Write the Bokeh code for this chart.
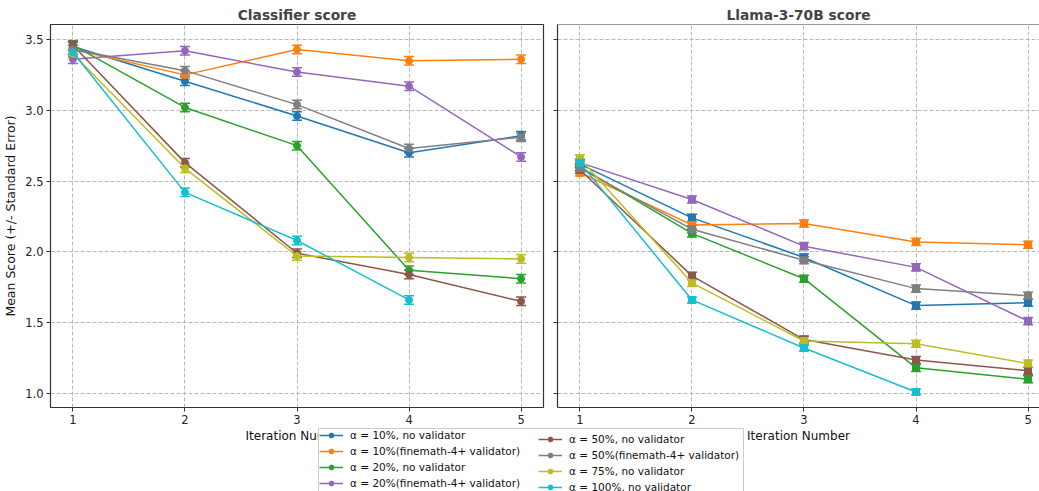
import math
from bokeh.plotting import figure
from bokeh.models import (ColumnDataSource, Whisker, TeeHead, FixedTicker, Legend,
                          LegendItem, Range1d, Span, PrintfTickFormatter)
from bokeh.layouts import row, column
from bokeh.embed import file_html
from bokeh.resources import INLINE

# ---------------- data ----------------
iterations = [1, 2, 3, 4, 5]
series_labels = [
    "α = 10%, no validator",
    "α = 10%(finemath-4+ validator)",
    "α = 20%, no validator",
    "α = 20%(finemath-4+ validator)",
    "α = 50%, no validator",
    "α = 50%(finemath-4+ validator)",
    "α = 75%, no validator",
    "α = 100%, no validator",
]
colors = ["#1f77b4", "#ff7f0e", "#2ca02c", "#9467bd",
          "#8c564b", "#7f7f7f", "#bcbd22", "#17becf"]

# Classifier score (mean)
clf_a10_nv = [3.45, 3.205, 2.96, 2.70, 2.82]
clf_a10_fm = [3.43, 3.25, 3.43, 3.35, 3.36]
clf_a20_nv = [3.46, 3.02, 2.75, 1.87, 1.81]
clf_a20_fm = [3.36, 3.42, 3.27, 3.17, 2.67]
clf_a50_nv = [3.46, 2.63, 1.99, 1.84, 1.65]
clf_a50_fm = [3.43, 3.28, 3.04, 2.73, 2.81]
clf_a75_nv = [3.40, 2.59, 1.97, 1.96, 1.95]
clf_a100_nv = [3.41, 2.42, 2.08, 1.66]

# Classifier score (standard error)
clf_se_a10_nv = [0.03, 0.03, 0.03, 0.03, 0.03]
clf_se_a10_fm = [0.03, 0.03, 0.03, 0.03, 0.03]
clf_se_a20_nv = [0.03, 0.03, 0.03, 0.03, 0.03]
clf_se_a20_fm = [0.03, 0.03, 0.03, 0.03, 0.03]
clf_se_a50_nv = [0.03, 0.03, 0.03, 0.03, 0.03]
clf_se_a50_fm = [0.03, 0.03, 0.03, 0.03, 0.03]
clf_se_a75_nv = [0.03, 0.03, 0.03, 0.03, 0.03]
clf_se_a100_nv = [0.03, 0.03, 0.03, 0.03]

# Llama-3-70B score (mean)
llm_a10_nv = [2.62, 2.24, 1.96, 1.62, 1.64]
llm_a10_fm = [2.56, 2.19, 2.20, 2.07, 2.05]
llm_a20_nv = [2.60, 2.13, 1.81, 1.18, 1.10]
llm_a20_fm = [2.63, 2.37, 2.04, 1.89, 1.51]
llm_a50_nv = [2.58, 1.83, 1.38, 1.235, 1.16]
llm_a50_fm = [2.59, 2.16, 1.94, 1.74, 1.69]
llm_a75_nv = [2.66, 1.78, 1.37, 1.35, 1.21]
llm_a100_nv = [2.63, 1.66, 1.32, 1.01]

# Llama-3-70B score (standard error)
llm_se_a10_nv = [0.025, 0.025, 0.025, 0.025, 0.025]
llm_se_a10_fm = [0.025, 0.025, 0.025, 0.025, 0.025]
llm_se_a20_nv = [0.025, 0.025, 0.025, 0.025, 0.025]
llm_se_a20_fm = [0.025, 0.025, 0.025, 0.025, 0.025]
llm_se_a50_nv = [0.025, 0.025, 0.025, 0.025, 0.025]
llm_se_a50_fm = [0.025, 0.025, 0.025, 0.025, 0.025]
llm_se_a75_nv = [0.025, 0.025, 0.025, 0.025, 0.025]
llm_se_a100_nv = [0.02, 0.02, 0.02, 0.02]

y_ticks = [1.0, 1.5, 2.0, 2.5, 3.0, 3.5]

clf_means = [clf_a10_nv, clf_a10_fm, clf_a20_nv, clf_a20_fm,
             clf_a50_nv, clf_a50_fm, clf_a75_nv, clf_a100_nv]
clf_ses = [clf_se_a10_nv, clf_se_a10_fm, clf_se_a20_nv, clf_se_a20_fm,
           clf_se_a50_nv, clf_se_a50_fm, clf_se_a75_nv, clf_se_a100_nv]
llm_means = [llm_a10_nv, llm_a10_fm, llm_a20_nv, llm_a20_fm,
             llm_a50_nv, llm_a50_fm, llm_a75_nv, llm_a100_nv]
llm_ses = [llm_se_a10_nv, llm_se_a10_fm, llm_se_a20_nv, llm_se_a20_fm,
           llm_se_a50_nv, llm_se_a50_fm, llm_se_a75_nv, llm_se_a100_nv]

FONT = "DejaVu Sans"
Y_START, Y_END = 0.90, 3.606
y_range = Range1d(Y_START, Y_END)
SPINE = "#333333"


def style(p, show_ylabels):
    p.title.text_font = FONT
    p.title.text_font_size = "13.8px"
    p.title.text_font_style = "bold"
    p.title.align = "center"
    p.title.standoff = 3
    p.xgrid.ticker = FixedTicker(ticks=iterations)
    p.ygrid.ticker = FixedTicker(ticks=y_ticks)
    for g in (p.xgrid, p.ygrid):
        g.grid_line_color = "#b8b8b8"
        g.grid_line_dash = "4 2"
        g.grid_line_width = 1
    p.xaxis.ticker = FixedTicker(ticks=iterations)
    p.yaxis.ticker = FixedTicker(ticks=y_ticks)
    p.yaxis.formatter = PrintfTickFormatter(format="%.1f")
    for ax in (p.xaxis, p.yaxis):
        ax.major_tick_line_color = SPINE
        ax.major_tick_out = 4
        ax.major_tick_in = 0
        ax.minor_tick_line_color = None
        ax.major_label_text_font = FONT
        ax.major_label_text_font_size = "11.5px"
        ax.major_label_text_color = "#222222"
        ax.axis_label_text_font = FONT
        ax.axis_label_text_font_size = "12.5px"
        ax.axis_label_text_font_style = "normal"
        ax.axis_label_text_color = "#111111"
        ax.major_label_standoff = 3
        ax.axis_label_standoff = 2
    p.yaxis.axis_label_standoff = 4
    p.xaxis.axis_label = "Iteration Number"
    p.xaxis.axis_label_text_font_size = "12px"
    if show_ylabels:
        p.yaxis.axis_label = "Mean Score (+/- Standard Error)"
    else:
        p.yaxis.major_label_overrides = {t: "" for t in y_ticks}
        p.yaxis.major_label_standoff = 0
    p.background_fill_color = "white"
    p.border_fill_color = "white"


def draw_series(p, means, ses, marker):
    for vals, errs, c in zip(means, ses, colors):
        xs = iterations[:len(vals)]
        src = ColumnDataSource(dict(
            x=xs, y=vals,
            upper=[v + e for v, e in zip(vals, errs)],
            lower=[v - e for v, e in zip(vals, errs)]))
        p.line("x", "y", source=src, line_color=c, line_width=1.5)
        w = Whisker(base="x", upper="upper", lower="lower", source=src,
                    line_color=c, line_width=1.5,
                    upper_head=TeeHead(size=10, line_color=c, line_width=1.5),
                    lower_head=TeeHead(size=10, line_color=c, line_width=1.5))
        p.add_layout(w)
        p.scatter("x", "y", source=src, marker=marker, size=7,
                  fill_color=c, line_color=c)


# -------- left panel --------
p1 = figure(title="Classifier score", frame_width=493, frame_height=383,
            x_range=Range1d(0.8, 5.2), y_range=y_range,
            toolbar_location=None, output_backend="svg",
            min_border_left=43, min_border_right=7, min_border_top=24,
            min_border_bottom=40)
style(p1, True)
p1.axis.axis_line_color = None
p1.outline_line_color = SPINE
p1.outline_line_width = 1.2
draw_series(p1, clf_means, clf_ses, "circle")

# -------- right panel --------
p2 = figure(title="Llama-3-70B score", frame_width=482, frame_height=383,
            x_range=Range1d(0.8, 5.102), y_range=y_range,
            toolbar_location=None, output_backend="svg",
            min_border_left=7, min_border_right=0, min_border_top=24,
            min_border_bottom=40)
style(p2, False)
p2.outline_line_color = None
p2.axis.axis_line_color = SPINE
p2.axis.axis_line_width = 1.2
p2.add_layout(Span(location=Y_END, dimension="width", line_color=SPINE,
                   line_width=1.2))
draw_series(p2, llm_means, llm_ses, "square")

# -------- legend box --------
lf = figure(width=426, height=66, x_range=Range1d(0, 1), y_range=Range1d(0, 1),
            toolbar_location=None, output_backend="svg",
            x_axis_location=None, y_axis_location=None, min_border=0)
lf.grid.visible = False
lf.outline_line_color = "#cccccc"
lf.background_fill_color = "white"
lf.border_fill_color = "white"

items = []
for lab, c in zip(series_labels, colors):
    src = ColumnDataSource(dict(x=[-5], y=[-5]))
    r_line = lf.line("x", "y", source=src, line_color=c, line_width=1.5)
    r_err = lf.scatter("x", "y", source=src, marker="cross",
                       size=12, line_color=c, line_width=1.5)
    r_pt = lf.scatter("x", "y", source=src, marker="circle", size=7,
                      fill_color=c, line_color=c)
    items.append(LegendItem(label=lab, renderers=[r_line, r_err, r_pt]))

common = dict(padding=2, spacing=4, glyph_width=24, glyph_height=12,
              label_height=12, label_standoff=7, border_line_color=None,
              background_fill_alpha=0, label_text_font=FONT,
              label_text_font_size="10.5px", label_text_color="#111111")
leg1 = Legend(items=items[:4], location="top_left", margin=1, **common)
leg2 = Legend(items=items[4:], location=(220, 1), margin=0, **common)
lf.add_layout(leg1)
lf.add_layout(leg2)
lf.margin = (-19, 0, 0, 318)

layout = column(row(p1, p2), lf)

open("out.html", "w").write(file_html(layout, INLINE, title="chart"))
